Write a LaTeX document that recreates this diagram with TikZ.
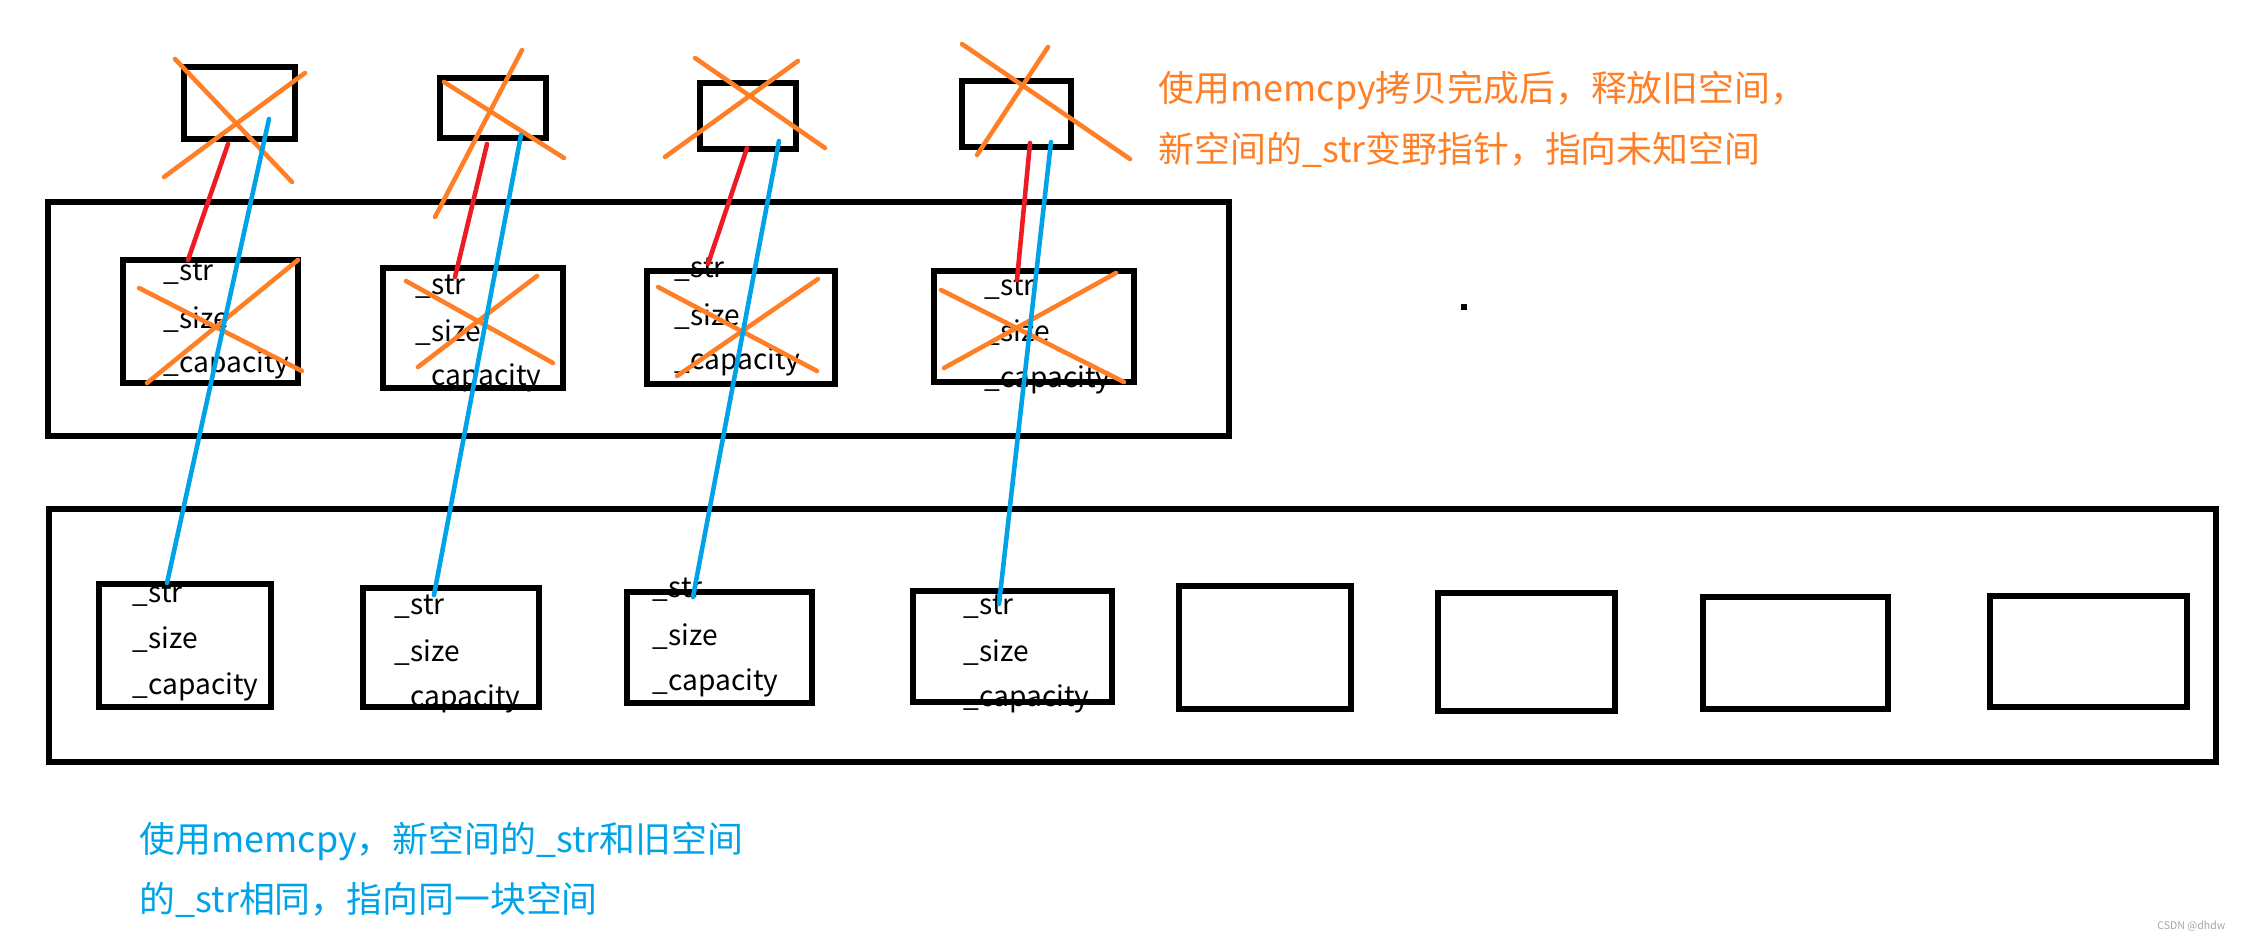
\documentclass[tikz,border=0pt]{standalone}
\usepackage{fontspec}
\setmainfont{Noto Sans CJK SC}
\usetikzlibrary{fit}
\definecolor{porange}{HTML}{FF7F27}
\definecolor{pblue}{HTML}{00A2E8}
\definecolor{pred}{HTML}{ED1C24}
\tikzset{
  boxline/.style={draw=black, line width=1.5pt, inner sep=0pt, outer sep=0pt},
  lbl/.style={anchor=west, inner sep=0pt, font=\fontsize{8}{9.6}\selectfont},
  crossline/.style={draw=porange, line width=1.3pt, line cap=round},
  redline/.style={draw=pred, line width=1.3pt, line cap=round},
  blueline/.style={draw=pblue, line width=1.3pt, line cap=round},
  note/.style={anchor=west, inner sep=0pt, font=\fontsize{10.2}{12}\selectfont}
}
\newcommand\mybox[5]{%
  \coordinate (#1-a) at (#2,#3);
  \coordinate (#1-b) at (#4,#5);
  \node[boxline, fit=(#1-a)(#1-b)] (#1) {};}
\newcommand\mylabels[5]{%
  \node[lbl] (#1-s) at (#2,#3) {\_str};
  \node[lbl] (#1-z) at (#2,#4) {\_size};
  \node[lbl] (#1-c) at (#2,#5) {\_capacity};}
\newcommand\mycross[9]{%
  \coordinate (#1-x1) at (#2,#3); \coordinate (#1-x2) at (#4,#5);
  \coordinate (#1-x3) at (#6,#7); \coordinate (#1-x4) at (#8,#9);
  \draw[crossline] (#1-x1) -- (#1-x2);
  \draw[crossline] (#1-x3) -- (#1-x4);}
\begin{document}
\begin{tikzpicture}[x=0.01cm, y=-0.01cm]
\useasboundingbox (0,0) rectangle (2253,939);
% containers
\mybox{C1}{48}{202}{1229}{436}
\mybox{C2}{49}{509}{2216}{762}
% top boxes
\mybox{T1}{184}{67}{295}{139}
\mybox{T2}{440}{78}{546}{138}
\mybox{T3}{700}{83}{796}{149}
\mybox{T4}{962}{81}{1071}{147}
% middle struct boxes
\mybox{M1}{123}{260}{298}{383}
\mybox{M2}{383}{268}{563}{388}
\mybox{M3}{647}{271}{835}{384}
\mybox{M4}{934}{271}{1134}{382}
% bottom struct boxes
\mybox{B1}{99}{584}{271}{707}
\mybox{B2}{363}{588}{539}{707}
\mybox{B3}{627}{592}{812}{703}
\mybox{B4}{913}{591}{1112}{702}
\mybox{E1}{1179}{586}{1351}{709}
\mybox{E2}{1438}{593}{1615}{711}
\mybox{E3}{1703}{597}{1888}{709}
\mybox{E4}{1990}{596}{2187}{707}
% labels
\mylabels{M1}{163}{273}{320}{365}
\mylabels{M2}{415}{287}{333}{378}
\mylabels{M3}{674}{270}{317}{362}
\mylabels{M4}{984}{288}{333}{380}
\mylabels{B1}{132}{595}{640}{687}
\mylabels{B2}{394}{607}{653}{699}
\mylabels{B3}{652}{590}{637}{683}
\mylabels{B4}{963}{607}{653}{699}
% dot
\node[fill=black, inner sep=0pt, minimum size=0.06cm] (dot) at (1464,307) {};
% orange crosses
\mycross{T1}{175}{59}{292}{182}{164}{177}{305}{73}
\mycross{T2}{444}{82}{564}{158}{435}{217}{522}{50}
\mycross{T3}{695}{58}{825}{148}{665}{157}{798}{61}
\mycross{T4}{962}{44}{1130}{159}{977}{155}{1048}{47}
\mycross{M1}{139}{288}{302}{371}{147}{383}{298}{260}
\mycross{M2}{406}{281}{553}{363}{418}{367}{537}{276}
\mycross{M3}{658}{287}{817}{371}{677}{376}{818}{279}
\mycross{M4}{941}{290}{1124}{382}{944}{368}{1116}{273}
% red pointers (old _str -> old buffer)
\coordinate (r1a) at (228,144); \coordinate (r1b) at (188,260);
\coordinate (r2a) at (487,144); \coordinate (r2b) at (455,277);
\coordinate (r3a) at (747,148); \coordinate (r3b) at (708,264);
\coordinate (r4a) at (1030,143); \coordinate (r4b) at (1017,280);
\draw[redline] (r1a) -- (r1b);
\draw[redline] (r2a) -- (r2b);
\draw[redline] (r3a) -- (r3b);
\draw[redline] (r4a) -- (r4b);
% blue pointers (new _str -> old buffer)
\coordinate (b1a) at (269,119); \coordinate (b1b) at (167,583);
\coordinate (b2a) at (521,135); \coordinate (b2b) at (434,595);
\coordinate (b3a) at (779,141); \coordinate (b3b) at (693,597);
\coordinate (b4a) at (1051,142); \coordinate (b4b) at (999,604);
\draw[blueline] (b1a) -- (b1b);
\draw[blueline] (b2a) -- (b2b);
\draw[blueline] (b3a) -- (b3b);
\draw[blueline] (b4a) -- (b4b);
% notes
\node[note, text=porange] (o1) at (1158,90) {使用memcpy拷贝完成后，释放旧空间，};
\node[note, text=porange] (o2) at (1158,150) {新空间的\_str变野指针，指向未知空间};
\node[note, text=pblue] (n1) at (139,842) {使用memcpy，新空间的\_str和旧空间};
\node[note, text=pblue] (n2) at (139,900) {的\_str相同，指向同一块空间};
\node[anchor=east, inner sep=0pt, text=black!35, font=\fontsize{3}{4}\selectfont] (wm) at (2226,926) {CSDN @dhdw};
\end{tikzpicture}
\end{document}
